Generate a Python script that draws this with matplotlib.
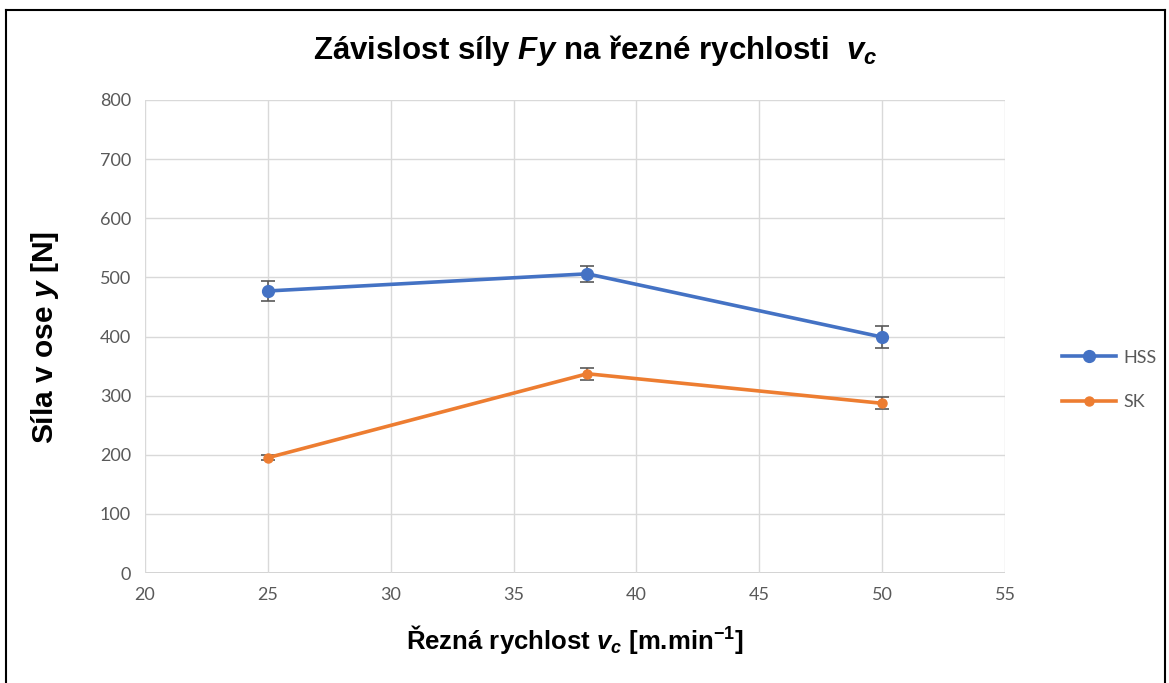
import matplotlib
matplotlib.use("Agg")
import matplotlib.pyplot as plt
from matplotlib.lines import Line2D

plt.rcParams['mathtext.fontset'] = 'custom'
plt.rcParams['mathtext.it'] = 'Liberation Sans:bold:italic'
plt.rcParams['mathtext.rm'] = 'Liberation Sans:bold'
plt.rcParams['mathtext.bf'] = 'Liberation Sans:bold'

speeds = [25, 38, 50]
hss = [477, 506, 399]
hss_err = [17, 13, 18]
sk = [195, 337, 287]
sk_err = [4, 10, 10]
series_names = ["HSS", "SK"]
xticks = [20, 25, 30, 35, 40, 45, 50, 55]
yticks = [0, 100, 200, 300, 400, 500, 600, 700, 800]

fig = plt.figure(figsize=(11.69, 6.83), dpi=100)
ax = fig.add_axes([145/1169, 1-573/683, (1005-145)/1169, (573-100)/683])

blue = "#4472C4"
orange = "#ED7D31"
errc = "#595959"

ax.errorbar(speeds, hss, yerr=hss_err, color=blue, lw=2.6, marker='o', ms=8.5,
            ecolor=errc, elinewidth=1.2, capsize=5, capthick=1.2, zorder=3)
ax.errorbar(speeds, sk, yerr=sk_err, color=orange, lw=2.6, marker='o', ms=6.5,
            ecolor=errc, elinewidth=1.2, capsize=5, capthick=1.2, zorder=3)

ax.set_xlim(20, 55)
ax.set_ylim(0, 800)
ax.set_xticks(xticks)
ax.set_yticks(yticks)
ax.grid(True, color="#d9d9d9", lw=1.0, zorder=0)
for s in ax.spines.values():
    s.set_visible(False)
ax.axhline(0, color="#d0d0d0", lw=1.3, zorder=1)
ax.tick_params(length=0, labelsize=13, labelcolor="#595959", pad=10)
for lbl in ax.get_xticklabels() + ax.get_yticklabels():
    lbl.set_family("Lato")

fig.text(595/1169, 1-50/683, "Závislost síly $Fy$ na řezné rychlosti  $v_c$",
         ha='center', va='center', fontsize=22.5, fontweight='bold', family='Liberation Sans')
fig.text(575/1169, 1-640/683, "Řezná rychlost $v_c$ [m.min$^{-1}$]",
         ha='center', va='center', fontsize=18.5, fontweight='bold', family='Liberation Sans')
fig.text(45/1169, 1-338/683, "Síla v ose $y$ [N]", rotation=90,
         ha='center', va='center', fontsize=21.5, fontweight='bold', family='Liberation Sans')

handles = [Line2D([], [], color=blue, lw=2.6, marker='o', ms=8.5),
           Line2D([], [], color=orange, lw=2.6, marker='o', ms=6.5)]
leg = fig.legend(handles, series_names, loc='center left', bbox_to_anchor=(1046/1169, 1-380/683),
                 frameon=False, handlelength=3.0, handletextpad=0.4, labelspacing=1.6,
                 prop={'family': 'Lato', 'size': 13})
for t in leg.get_texts():
    t.set_color("#595959")

# border
fig.add_artist(Line2D([6/1169, 6/1169], [0, 1-10/683], color='black', lw=1.5, transform=fig.transFigure))
fig.add_artist(Line2D([6/1169, 1165/1169], [1-10/683, 1-10/683], color='black', lw=1.5, transform=fig.transFigure))
fig.add_artist(Line2D([1165/1169, 1165/1169], [0, 1-10/683], color='black', lw=1.5, transform=fig.transFigure))

fig.savefig("out.png", dpi=100)
